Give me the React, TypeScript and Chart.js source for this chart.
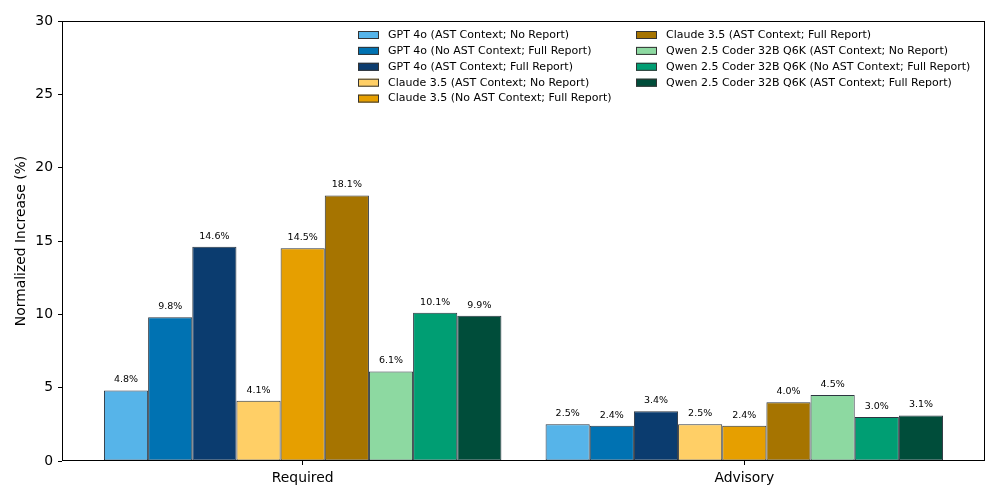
import React, { useEffect, useRef } from "react";
import { Chart, registerables } from "chart.js";

Chart.register(...registerables);

const categories = ["Required", "Advisory"];
const seriesNames = [
  "GPT 4o (AST Context; No Report)",
  "GPT 4o (No AST Context; Full Report)",
  "GPT 4o (AST Context; Full Report)",
  "Claude 3.5 (AST Context; No Report)",
  "Claude 3.5 (No AST Context; Full Report)",
  "Claude 3.5 (AST Context; Full Report)",
  "Qwen 2.5 Coder 32B Q6K (AST Context; No Report)",
  "Qwen 2.5 Coder 32B Q6K (No AST Context; Full Report)",
  "Qwen 2.5 Coder 32B Q6K (AST Context; Full Report)",
];
const gpt4oAstNoReport = [4.8, 2.5];
const gpt4oNoAstFull = [9.8, 2.4];
const gpt4oAstFull = [14.6, 3.4];
const claudeAstNoReport = [4.1, 2.5];
const claudeNoAstFull = [14.5, 2.4];
const claudeAstFull = [18.1, 4.0];
const qwenAstNoReport = [6.1, 4.5];
const qwenNoAstFull = [10.1, 3.0];
const qwenAstFull = [9.9, 3.1];
const seriesValues = [
  gpt4oAstNoReport,
  gpt4oNoAstFull,
  gpt4oAstFull,
  claudeAstNoReport,
  claudeNoAstFull,
  claudeAstFull,
  qwenAstNoReport,
  qwenNoAstFull,
  qwenAstFull,
];
const colors = [
  "#56B4E9",
  "#0072B2",
  "#0B3C6F",
  "#FFCF66",
  "#E69F00",
  "#A67400",
  "#8DD9A1",
  "#009E73",
  "#004D3A",
];
const yTicks = [0, 5, 10, 15, 20, 25, 30];

const FONT = "'DejaVu Sans', sans-serif";

const boxPlugin = {
  id: "boxPlugin",
  afterDraw(chart: any) {
    const { ctx, chartArea: a } = chart;
    ctx.save();
    ctx.strokeStyle = "#000";
    ctx.lineWidth = 1;
    ctx.strokeRect(a.left + 0.5, a.top + 0.5, a.right - a.left - 1, a.bottom - a.top - 1);
    ctx.restore();
  },
};

const labelPlugin = {
  id: "labelPlugin",
  afterDatasetsDraw(chart: any) {
    const { ctx } = chart;
    ctx.save();
    ctx.font = `9.5px ${FONT}`;
    ctx.fillStyle = "#000";
    ctx.textAlign = "center";
    ctx.textBaseline = "bottom";
    chart.data.datasets.forEach((ds: any, di: number) => {
      const meta = chart.getDatasetMeta(di);
      meta.data.forEach((el: any, i: number) => {
        const v = ds.data[i].y;
        ctx.fillText(v.toFixed(1) + "%", el.x, el.y - 6);
      });
    });
    ctx.restore();
  },
};

const legendPlugin = {
  id: "legendPlugin",
  afterDraw(chart: any) {
    const { ctx } = chart;
    ctx.save();
    ctx.font = `11px ${FONT}`;
    ctx.textBaseline = "middle";
    ctx.textAlign = "left";
    chart.data.datasets.forEach((ds: any, i: number) => {
      const col = i < 5 ? 0 : 1;
      const row = i < 5 ? i : i - 5;
      const bx = col === 0 ? 358 : 636;
      const cy = 35 + row * 15.9;
      ctx.fillStyle = ds.backgroundColor;
      ctx.fillRect(bx, cy - 4, 21, 8);
      ctx.strokeStyle = "#333";
      ctx.lineWidth = 1;
      ctx.strokeRect(bx + 0.5, cy - 4 + 0.5, 20, 7);
      ctx.fillStyle = "#000";
      ctx.fillText(ds.label, bx + 30, cy);
    });
    ctx.restore();
  },
};

export default function App() {
  const ref = useRef<HTMLCanvasElement>(null);
  useEffect(() => {
    document.body.style.margin = "0";
    const chart = new Chart(ref.current as HTMLCanvasElement, {
      type: "bar",
      data: {
        datasets: seriesNames.map((name, s) => ({
          label: name,
          data: categories.map((_, i) => ({ x: i, y: seriesValues[s][i] })),
          backgroundColor: colors[s],
          borderColor: "#2d3640",
          borderWidth: 1,
          borderSkipped: false,
        })),
      },
      options: {
        animation: false,
        responsive: false,
        maintainAspectRatio: false,
        layout: { padding: { top: 21, right: 15, left: 0, bottom: 0 } },
        datasets: { bar: { categoryPercentage: 0.9, barPercentage: 1 } },
        plugins: { legend: { display: false }, tooltip: { enabled: false } },
        scales: {
          x: {
            type: "linear",
            offset: false,
            min: -0.545,
            max: 1.545,
            afterBuildTicks: (scale: any) => {
              scale.ticks = categories.map((_, i) => ({ value: i }));
            },
            afterFit: (scale: any) => {
              scale.height = 39;
            },
            grid: { display: true, offset: false, drawOnChartArea: false, drawTicks: true, tickLength: 4, color: "#000" },
            border: { display: false },
            ticks: {
              color: "#000",
              font: { family: FONT, size: 13.9 },
              padding: 5,
              maxRotation: 0,
              callback: (v: any) => categories[v] ?? "",
            },
          },
          y: {
            min: 0,
            max: 30,
            afterBuildTicks: (scale: any) => {
              scale.ticks = yTicks.map((v) => ({ value: v }));
            },
            afterFit: (scale: any) => {
              scale.width = 62;
            },
            grid: { display: true, drawOnChartArea: false, drawTicks: true, tickLength: 4, color: "#000" },
            border: { display: false },
            title: {
              display: true,
              text: "Normalized Increase (%)",
              color: "#000",
              font: { family: FONT, size: 13.9 },
              padding: { top: 13, bottom: 0 },
            },
            ticks: {
              color: "#000",
              font: { family: FONT, size: 13.9 },
              padding: 5,
            },
          },
        },
      },
      plugins: [labelPlugin, boxPlugin, legendPlugin],
    } as any);
    return () => chart.destroy();
  }, []);
  return (
    <div style={{ position: "absolute", left: 0, top: 0, width: 1000, height: 500, background: "#fff" }}>
      <canvas ref={ref} width={1000} height={500} style={{ width: 1000, height: 500 }} />
    </div>
  );
}
